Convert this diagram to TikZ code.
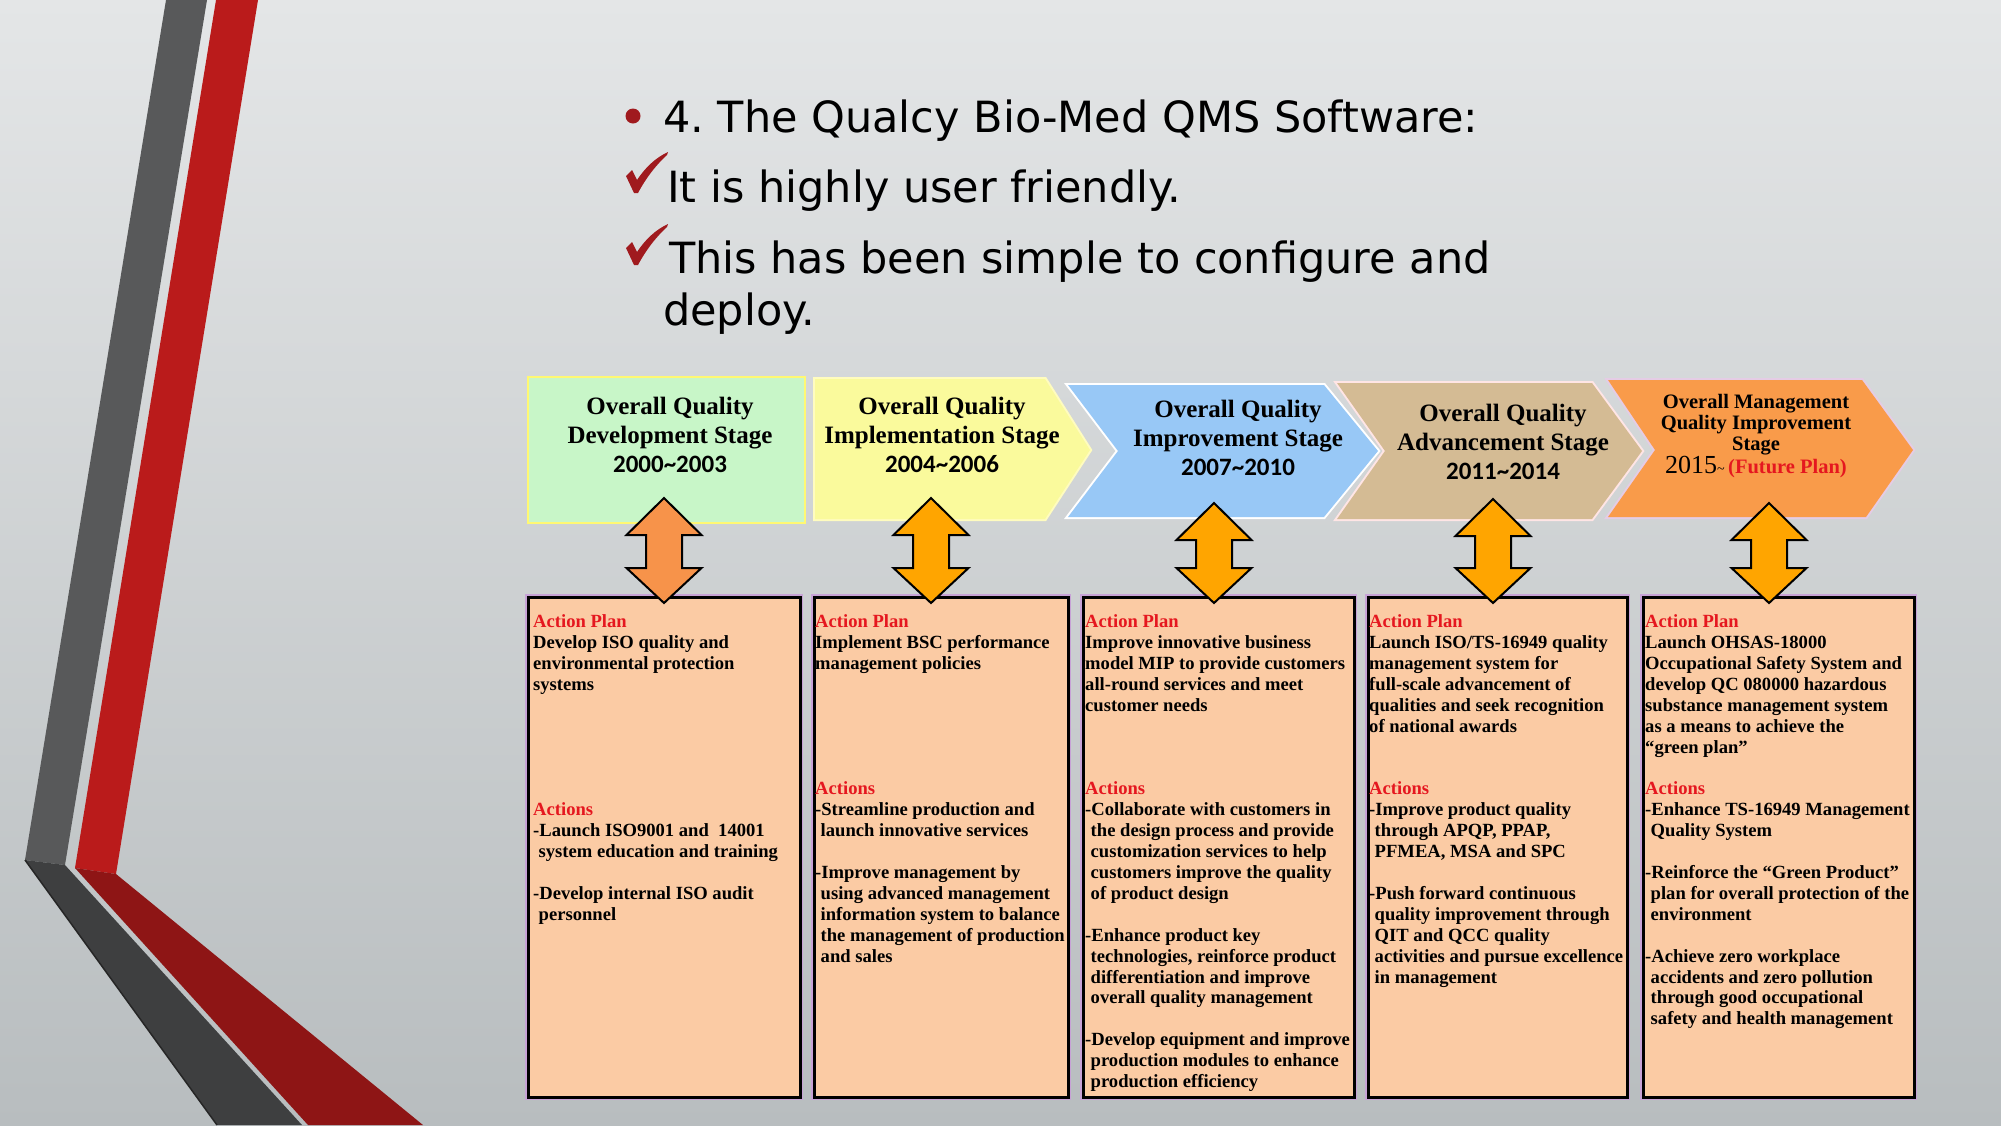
\documentclass[tikz,border=0pt]{standalone}
\usepackage{fontspec}
\setmainfont{Liberation Serif}
\newfontfamily\titlefont{DejaVu Sans}
\newfontfamily\yearfont{Carlito}
\frenchspacing
\definecolor{bgtop}{HTML}{E4E6E7}
\definecolor{bgmid}{HTML}{E3E5E6}
\definecolor{bgbot}{HTML}{B8BDBF}
\definecolor{stripegray}{HTML}{58595A}
\definecolor{stripedark}{HTML}{3E3F40}
\definecolor{stripered}{HTML}{BA1B1B}
\definecolor{stripedred}{HTML}{8E1515}
\definecolor{chkred}{HTML}{A01A1E}
\definecolor{stgreen}{HTML}{C8F6C8}
\definecolor{styellow}{HTML}{FAFA9C}
\definecolor{stblue}{HTML}{98C8F6}
\definecolor{sttan}{HTML}{D4BB94}
\definecolor{storange}{HTML}{F99B4A}
\definecolor{peach}{HTML}{FBCBA4}
\definecolor{arrowA}{HTML}{F7934A}
\definecolor{arrowB}{HTML}{FFA500}
\definecolor{txtred}{HTML}{E5171F}
\definecolor{glow}{HTML}{C7A2D6}
\newcommand\ind{\hspace*{5.5pt}}
\newcommand\ap{\rule{0pt}{14pt}\textcolor{txtred}{Action Plan}}
\newcommand\acts{\textcolor{txtred}{Actions}}
\newcommand\blk{\mbox{}}
\newcommand\yr[2]{{\yearfont\bfseries #1\textasciitilde #2}}
\newcommand\dblarrow[4]{%
  \filldraw[fill=#4, draw=black, line width=2pt, line join=miter]
    (#1,#2) -- ({#1+37.5},{#2+37}) -- ({#1+18},{#2+37}) -- ({#1+18},{#3-35})
    -- ({#1+37.5},{#3-35}) -- (#1,#3) -- ({#1-37.5},{#3-35}) -- ({#1-18},{#3-35})
    -- ({#1-18},{#2+37}) -- ({#1-37.5},{#2+37}) -- cycle;}
\tikzset{
  peachbox/.style={fill=peach, draw=black, line width=2.5pt, preaction={draw=glow, line width=6pt},
    anchor=north west, inner sep=0pt, minimum height=500pt},
  boxtext/.style={anchor=north west, inner sep=0pt, align=left,
    font=\bfseries\fontsize{18.6}{20.9}\selectfont},
  stagetext/.style={anchor=north, inner sep=0pt, align=center,
    font=\bfseries\fontsize{25}{29}\selectfont},
  titletext/.style={anchor=base west, inner sep=0pt, font=\titlefont\fontsize{43}{50}\selectfont},
  chk/.style={fill=chkred}
}
\begin{document}
\begin{tikzpicture}[x=1pt,y=-1pt]
\useasboundingbox (0,0) rectangle (2001,1125);
\clip (0,0) rectangle (2001,1125);
\shade[top color=bgtop, middle color=bgmid, bottom color=bgbot] (0,0) rectangle (2001,1125);

% decorative stripes
\fill[stripegray] (166,0) -- (207,0) -- (65,865) -- (25,860) -- cycle;
\fill[stripered] (216,0) -- (258,0) -- (116,874) -- (75,868) -- cycle;
\fill[stripedark] (25,860) -- (65,865) -- (302,1125) -- (217,1125) -- cycle;
\draw[black!85, line width=1.5pt] (25,860) -- (217,1125);
\fill[stripedred] (75,868) -- (116,874) -- (423,1125) -- (308,1125) -- cycle;

% title
\fill[chkred] (633,116) circle (7.5);
\node[titletext] (t1) at (663,132) {4. The Qualcy Bio-Med QMS Software:};
\fill[chk] (626,176) -- (632,170) -- (637,180) .. controls (645,168) and (655,158) .. (668,152)
  -- (667,155) .. controls (656,165) and (646,178) .. (638,193) -- (634,193) -- cycle;
\node[titletext] (t2) at (667,202) {It is highly user friendly.};
\fill[chk] (626,248) -- (632,242) -- (637,252) .. controls (645,240) and (655,230) .. (668,224)
  -- (667,227) .. controls (656,237) and (646,250) .. (638,265) -- (634,265) -- cycle;
\node[titletext] (t3) at (669,273) {This has been simple to configure and};
\node[titletext] (t4) at (663,325) {deploy.};

% stage shapes
\path[fill=stgreen, preaction={draw=yellow!55!white, line width=4pt}] (529,378) rectangle (804,522);
\path[fill=styellow, preaction={draw=yellow!25!white, line width=4pt}, line join=miter]
  (815,379) -- (1045,379) -- (1090,450) -- (1045,519) -- (815,519) -- cycle;
\path[fill=stblue, preaction={draw=white, line width=4pt}, line join=miter]
  (1068,385) -- (1324,385) -- (1378,451) -- (1324,517) -- (1068,517) -- (1118,451) -- cycle;
\path[fill=sttan, preaction={draw=pink!40!white, line width=4pt}, line join=miter]
  (1337,383) -- (1592,383) -- (1642,451) -- (1592,519) -- (1337,519) -- (1385,451) -- cycle;
\path[fill=storange, preaction={draw=violet!20!white, line width=4pt}, line join=miter]
  (1608,380) -- (1862,380) -- (1913,450) -- (1866,517) -- (1608,517) -- (1655,450) -- cycle;

\node[stagetext] (s1) at (670,395) {\rule{0pt}{19pt}Overall Quality\\Development Stage\\\yr{2000}{2003}};
\node[stagetext] (s2) at (942,395) {\rule{0pt}{19pt}Overall Quality\\Implementation Stage\\\yr{2004}{2006}};
\node[stagetext] (s3) at (1238,398) {\rule{0pt}{19pt}Overall Quality\\Improvement Stage\\\yr{2007}{2010}};
\node[stagetext] (s4) at (1503,402) {\rule{0pt}{19pt}Overall Quality\\Advancement Stage\\\yr{2011}{2014}};
\node[stagetext, font=\bfseries\fontsize{20.5}{21.3}\selectfont] (s5) at (1756,393)
  {\rule{0pt}{15pt}Overall Management\\Quality Improvement\\Stage\\
   {\mdseries\fontsize{26}{21.3}\selectfont 2015}{\mdseries\fontsize{14}{14}\selectfont\textasciitilde}\,\textcolor{txtred}{(Future Plan)}};

% action boxes
\node[peachbox, minimum width=272pt] (b1) at (527,596) {};
\node[peachbox, minimum width=254pt] (b2) at (813,596) {};
\node[peachbox, minimum width=271pt] (b3) at (1082,596) {};
\node[peachbox, minimum width=259pt] (b4) at (1367,596) {};
\node[peachbox, minimum width=271pt] (b5) at (1642,596) {};

\node[boxtext] (p1) at (533,613.5) {\ap\\Develop ISO quality and\\environmental protection\\systems\\
  \blk\\\blk\\\blk\\\blk\\\blk\\
  \acts\\-Launch ISO9001 and\ \ 14001\\\ind system education and training\\\blk\\
  -Develop internal ISO audit\\\ind personnel};
\node[boxtext] (p2) at (815,613.5) {\ap\\Implement BSC performance\\management policies\\
  \blk\\\blk\\\blk\\\blk\\\blk\\
  \acts\\-Streamline production and\\\ind launch innovative services\\\blk\\
  -Improve management by\\\ind using advanced management\\\ind information system to balance\\
  \ind the management of production\\\ind and sales};
\node[boxtext] (p3) at (1085,613.5) {\ap\\Improve innovative business\\model MIP to provide customers\\
  all-round services and meet\\customer needs\\\blk\\\blk\\\blk\\
  \acts\\-Collaborate with customers in\\\ind the design process and provide\\\ind customization services to help\\
  \ind customers improve the quality\\\ind of product design\\\blk\\
  -Enhance product key\\\ind technologies, reinforce product\\\ind differentiation and improve\\
  \ind overall quality management\\\blk\\
  -Develop equipment and improve\\\ind production modules to enhance\\\ind production efficiency};
\node[boxtext] (p4) at (1369,613.5) {\ap\\Launch ISO/TS-16949 quality\\management system for\\
  full-scale advancement of\\qualities and seek recognition\\of national awards\\\blk\\\blk\\
  \acts\\-Improve product quality\\\ind through APQP, PPAP,\\\ind PFMEA, MSA and SPC\\\blk\\
  -Push forward continuous\\\ind quality improvement through\\\ind QIT and QCC quality\\
  \ind activities and pursue excellence\\\ind in management};
\node[boxtext] (p5) at (1645,613.5) {\ap\\Launch OHSAS-18000\\Occupational Safety System and\\
  develop QC 080000 hazardous\\substance management system\\as a means to achieve the\\“green plan”\\\blk\\
  \acts\\-Enhance TS-16949 Management\\\ind Quality System\\\blk\\
  -Reinforce the “Green Product”\\\ind plan for overall protection of the\\\ind environment\\\blk\\
  -Achieve zero workplace\\\ind accidents and zero pollution\\\ind through good occupational\\
  \ind safety and health management};

% double arrows between stages and boxes
\dblarrow{664}{498}{603}{arrowA}
\dblarrow{931}{498}{603}{arrowB}
\dblarrow{1214}{503}{603}{arrowB}
\dblarrow{1493}{499}{603}{arrowB}
\dblarrow{1769}{503}{603}{arrowB}
\end{tikzpicture}
\end{document}
